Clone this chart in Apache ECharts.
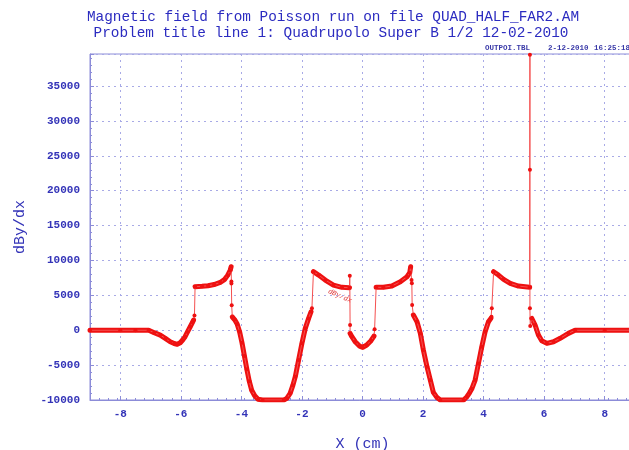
<!DOCTYPE html>
<html>
<head>
<meta charset="utf-8">
<script src="https://cdn.jsdelivr.net/npm/echarts@6/dist/echarts.min.js"></script>
<style>html,body{margin:0;padding:0;background:#fff;}#chart{width:629px;height:450px;}</style>
</head>
<body>
<div id="chart"></div>
<script>
// ---- data (x in cm, dBy/dx) ----
const titleLine1 = 'Magnetic field from Poisson run on file QUAD_HALF_FAR2.AM';
const titleLine2 = 'Problem title line 1: Quadrupolo Super B 1/2 12-02-2010';
const xTickValues = [-8, -6, -4, -2, 0, 2, 4, 6, 8];
const yTickStep = 5000;

// smooth (densely sampled) pieces of the curve
const segOuterLeft = [[-9,0],[-8,0],[-7.5,0],[-7.06,0],[-6.88,-350],[-6.68,-690],[-6.5,-1200],[-6.35,-1650],[-6.22,-1900],[-6.12,-2020],[-6.02,-1790],[-5.94,-1400],[-5.86,-930],[-5.78,-250],[-5.69,500],[-5.62,1100],[-5.58,1460]];
const jumpOuterLeft = [[-5.55,2100]];
const segPoleLeft = [[-5.53,6240],[-5.3,6300],[-5.1,6380],[-4.9,6550],[-4.7,6850],[-4.55,7300],[-4.45,7900],[-4.37,8600],[-4.34,9100]];
const jumpPoleLeft = [[-4.33,7000],[-4.33,6700],[-4.32,3600]];
const segValleyLeft = [[-4.30,1900],[-4.22,1500],[-4.14,900],[-4.06,-200],[-3.98,-1800],[-3.90,-3700],[-3.82,-5600],[-3.74,-7300],[-3.66,-8600],[-3.56,-9400],[-3.45,-9900],[-3.3,-10000],[-2.6,-10000],[-2.5,-9760],[-2.39,-9050],[-2.30,-7900],[-2.22,-6660],[-2.11,-4270],[-2.0,-1880],[-1.89,270],[-1.78,1700],[-1.70,2650]];
const jumpInnerLeft = [[-1.67,3140]];
const segInnerLeft = [[-1.62,8390],[-1.45,7910],[-1.23,7200],[-0.96,6480],[-0.68,6150],[-0.43,6100]];
const jumpCentreLeft = [[-0.42,7810],[-0.41,745]];
const segCentre = [[-0.41,-450],[-0.35,-930],[-0.24,-1650],[-0.10,-2270],[0.01,-2450],[0.14,-2120],[0.28,-1500],[0.38,-830]];
const jumpCentreRight = [[0.40,150]];
const segInnerRight = [[0.45,6150],[0.69,6150],[0.97,6340],[1.25,6960],[1.47,7670],[1.56,8240],[1.59,9100]];
const jumpInnerRight = [[1.62,7200],[1.63,6720],[1.64,3610]];
const segValleyRight = [[1.68,2180],[1.80,1220],[1.91,-450],[2.01,-2840],[2.13,-5230],[2.24,-7140],[2.34,-8900],[2.45,-9600],[2.57,-10000],[3.34,-10000],[3.45,-9530],[3.53,-9000],[3.61,-8400],[3.72,-7140],[3.83,-4750],[3.94,-2370],[4.05,-210],[4.16,1220],[4.24,1700]];
const jumpPoleRight = [[4.26,1940],[4.27,3140]];
const segPoleRight = [[4.33,8390],[4.49,7910],[4.66,7300],[4.88,6720],[5.15,6340],[5.52,6150]];
const jumpSpike = [[5.53,39500],[5.53,23000],[5.53,3140],[5.54,600]];
const segOuterRight = [[5.59,1700],[5.70,750],[5.81,-690],[5.92,-1500],[6.09,-1880],[6.31,-1650],[6.53,-1160],[6.80,-450],[7.02,0],[8,0],[9,0]];

const pieces = [segOuterLeft, jumpOuterLeft, segPoleLeft, jumpPoleLeft, segValleyLeft, jumpInnerLeft,
  segInnerLeft, jumpCentreLeft, segCentre, jumpCentreRight, segInnerRight, jumpInnerRight,
  segValleyRight, jumpPoleRight, segPoleRight, jumpSpike, segOuterRight];
const smoothSegments = [segOuterLeft, segPoleLeft, segValleyLeft, segInnerLeft, segCentre, segInnerRight, segValleyRight, segPoleRight, segOuterRight];
const allPoints = [].concat(...pieces);

const RED = '#ee1111';
const BLUE = '#3434b8';
const AXIS = '#8c8cd8';
const MONO = '"Liberation Mono", "DejaVu Sans Mono", monospace';

const chart = echarts.init(document.getElementById('chart'), null, {renderer: 'canvas'});
const series = [{
  type: 'line', data: allPoints, symbol: 'circle', symbolSize: 4, showSymbol: true,
  lineStyle: {width: 1, color: '#f45050'}, itemStyle: {color: RED}, z: 3, animation: false
}].concat(smoothSegments.map(s => ({
  type: 'line', data: s, showSymbol: false, lineStyle: {width: 5, color: RED, cap: 'round', join: 'round'},
  z: 2, animation: false
})));

chart.setOption({
  animation: false,
  grid: {left: 90, right: -6, top: 54, bottom: 50, containLabel: false, outerBoundsMode: 'none',
         show: true, borderColor: AXIS, borderWidth: 1},
  xAxis: {
    type: 'value', min: -9, max: 9,
    name: 'X (cm)', nameLocation: 'middle', nameGap: 37,
    nameTextStyle: {fontFamily: MONO, fontSize: 15, color: BLUE},
    axisLine: {show: true, onZero: false, lineStyle: {color: AXIS}},
    axisTick: {show: true, inside: true, length: 4, customValues: xTickValues, lineStyle: {color: AXIS}},
    minorTick: {show: true, splitNumber: 10, length: 2, lineStyle: {color: AXIS}},
    axisLabel: {customValues: xTickValues, color: BLUE, fontFamily: MONO, fontWeight: 'bold', fontSize: 11, margin: 9},
    splitLine: {show: true, lineStyle: {type: [2, 4], color: '#a8aae6', width: 1}}
  },
  yAxis: {
    type: 'value', min: -10000, max: 39600, interval: yTickStep,
    name: 'dBy/dx', nameLocation: 'middle', nameGap: 62,
    nameTextStyle: {fontFamily: MONO, fontSize: 15, color: BLUE},
    axisLine: {show: true, onZero: false, lineStyle: {color: AXIS}},
    axisTick: {show: true, inside: true, length: 4, lineStyle: {color: AXIS}},
    minorTick: {show: true, splitNumber: 5, length: 2, lineStyle: {color: AXIS}},
    axisLabel: {showMaxLabel: false, formatter: v => String(v), color: BLUE, fontFamily: MONO, fontWeight: 'bold', fontSize: 11, margin: 10},
    splitLine: {show: true, lineStyle: {type: [2, 4], color: '#a8aae6', width: 1}}
  },
  graphic: [
    {type: 'text', x: 333, y: 17, style: {text: titleLine1, fill: '#2b2bc0', font: '14.4px ' + MONO, textAlign: 'center', textVerticalAlign: 'middle'}},
    {type: 'text', x: 331, y: 33, style: {text: titleLine2, fill: '#2b2bc0', font: '14.4px ' + MONO, textAlign: 'center', textVerticalAlign: 'middle'}},
    {type: 'text', x: 485, y: 48, style: {text: 'OUTPOI.TBL', fill: '#3a3aa8', font: 'bold 7.5px ' + MONO, textVerticalAlign: 'middle'}},
    {type: 'text', x: 548, y: 48, style: {text: '2-12-2010', fill: '#3a3aa8', font: 'bold 7.5px ' + MONO, textVerticalAlign: 'middle'}},
    {type: 'text', x: 594, y: 48, style: {text: '16:25:18', fill: '#3a3aa8', font: 'bold 7.5px ' + MONO, textVerticalAlign: 'middle'}},
    {type: 'text', x: 340, y: 296, rotation: -0.41, style: {text: 'dBy/dx', fill: '#dd3030', font: 'italic 7px ' + MONO, textAlign: 'center', textVerticalAlign: 'middle'}}
  ],
  series: series
});
</script>
</body>
</html>
